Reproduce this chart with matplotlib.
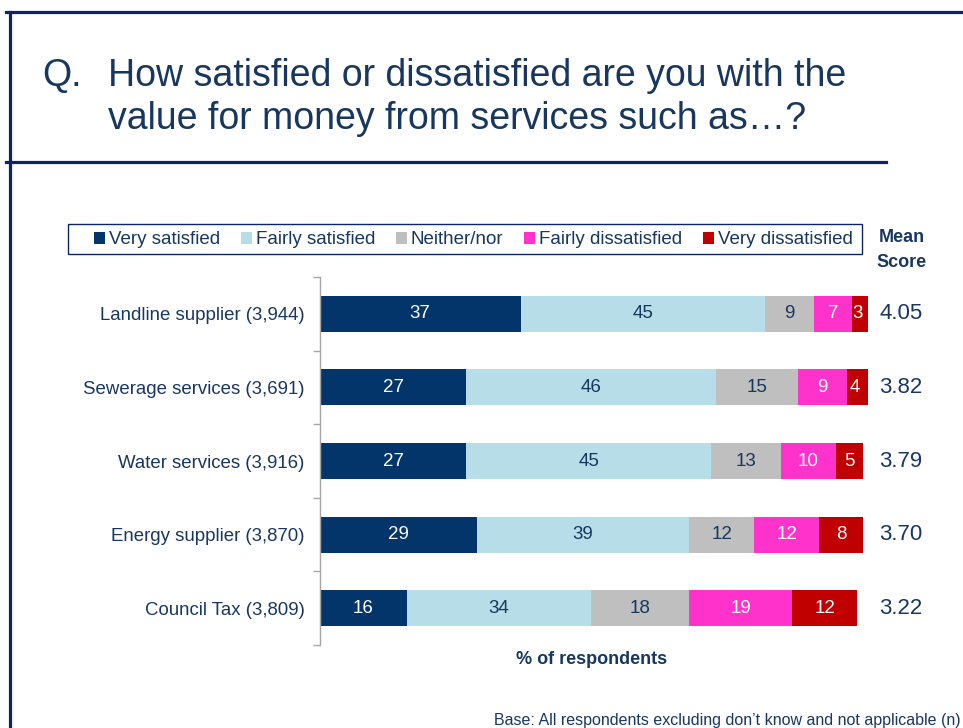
import matplotlib
matplotlib.use("Agg")
import matplotlib.pyplot as plt
from matplotlib.lines import Line2D
from matplotlib.patches import Rectangle
import numpy as np

plt.rcParams['font.family'] = ['Liberation Sans', 'DejaVu Sans']

# survey results, % of respondents per answer
services = ['Landline supplier (3,944)', 'Sewerage services (3,691)',
            'Water services (3,916)', 'Energy supplier (3,870)',
            'Council Tax (3,809)']
answers = ['Very satisfied', 'Fairly satisfied', 'Neither/nor',
           'Fairly dissatisfied', 'Very dissatisfied']
very_satisfied = [37, 27, 27, 29, 16]
fairly_satisfied = [45, 46, 45, 39, 34]
neither = [9, 15, 13, 12, 18]
fairly_dissatisfied = [7, 9, 10, 12, 19]
very_dissatisfied = [3, 4, 5, 8, 12]
mean_scores = ['4.05', '3.82', '3.79', '3.70', '3.22']

navy = '#17375E'
border = '#0A2464'
colors = ['#03356A', '#B7DEE8', '#BFBFBF', '#FF33CC', '#C00000']
label_colors = ['white', navy, navy, 'white', 'white']

fig = plt.figure(figsize=(9.63, 7.28), dpi=100)
ax = fig.add_axes([0.332, 0.114, 0.564, 0.5055])

series = [very_satisfied, fairly_satisfied, neither,
          fairly_dissatisfied, very_dissatisfied]
y = np.arange(len(services))
left = np.zeros(len(services))
for vals, col, lc, name in zip(series, colors, label_colors, answers):
    vals = np.array(vals, dtype=float)
    bars = ax.barh(y, vals, left=left, height=0.49, color=col,
                   edgecolor='none', label=name, clip_on=False)
    ax.bar_label(bars, labels=[str(int(v)) for v in vals], label_type='center',
                 color=lc, fontsize=13.5)
    left += vals

for yi, m in zip(y, mean_scores):
    ax.text(107, yi, m, ha='center', va='center', fontsize=16,
            color=navy, clip_on=False)

ax.set_xlim(0, 100)
ax.set_ylim(len(services) - 0.5, -0.5)
ax.set_yticks(y)
ax.set_yticklabels(services, fontsize=13.4, color=navy)
ax.set_yticks(np.arange(-0.5, len(services)), minor=True)
ax.tick_params(axis='y', which='major', length=0, pad=11)
ax.tick_params(axis='y', which='minor', length=5, color='#A6A6A6', width=1)
ax.set_xticks([])
for side in ['top', 'right', 'bottom']:
    ax.spines[side].set_visible(False)
ax.spines['left'].set_color('#A6A6A6')
ax.spines['left'].set_linewidth(1)

ax.set_xlabel('% of respondents', fontsize=13, fontweight='bold',
              color=navy, labelpad=4)

# legend entries spread across a boxed strip above the bars
leg = fig.legend(loc='lower left', bbox_to_anchor=(0.0914, 0.651, 0.80, 0.041),
                 mode='expand', ncol=5, fontsize=13.5, frameon=False,
                 handlelength=0.6, handleheight=0.6, handletextpad=0.2,
                 borderaxespad=0, borderpad=0.3, columnspacing=0.6)
for t in leg.get_texts():
    t.set_color(navy)
fig.add_artist(Rectangle((0.0706, 0.651), 0.8245, 0.0412, transform=fig.transFigure,
                         fill=False, edgecolor=border, lw=1.0))

fig.text(0.936, 0.6565, 'Mean\nScore', ha='center', va='center',
         fontsize=13, fontweight='bold', color=navy, linespacing=1.6)

# title block
fig.text(0.044, 0.896, 'Q.', ha='left', va='center', fontsize=27, color=navy)
fig.text(0.112, 0.896, 'How satisfied or dissatisfied are you with the',
         ha='left', va='center', fontsize=27, color=navy)
fig.text(0.112, 0.836, 'value for money from services such as\u2026?',
         ha='left', va='center', fontsize=27, color=navy)

fig.text(0.998, 0.0, 'Base: All respondents excluding don\u2019t know and not applicable (n)',
         ha='right', va='bottom', fontsize=11.5, color=navy)

# slide frame
fig.add_artist(Line2D([0.006, 1.0], [0.9835, 0.9835], color=border, lw=2.3))
fig.add_artist(Line2D([0.0104, 0.0104], [0.9835, 0.0], color=border, lw=2.3))
fig.add_artist(Line2D([0.006, 0.92], [0.7775, 0.7775], color=border, lw=2.3))

fig.savefig('out.png', dpi=100)
